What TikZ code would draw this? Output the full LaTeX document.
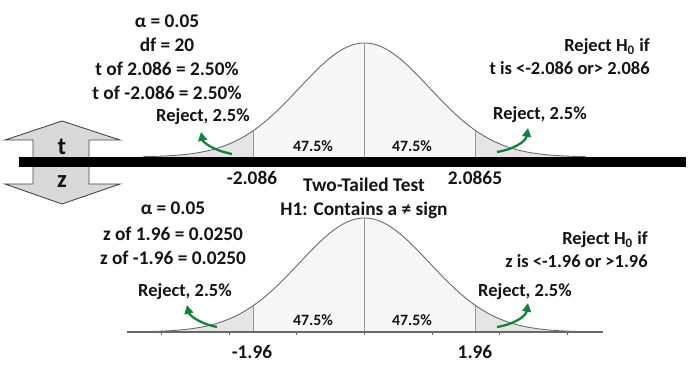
\documentclass[tikz,border=0pt]{standalone}
\usepackage{fontspec}
\setmainfont{Carlito}
\usetikzlibrary{calc,arrows.meta}
\definecolor{tailgray}{RGB}{229,229,229}
\definecolor{bodygray}{RGB}{247,247,247}
\definecolor{boxgray}{RGB}{217,217,217}
\definecolor{curvegray}{RGB}{105,105,105}
\definecolor{cutgray}{RGB}{150,150,150}
\definecolor{rejgreen}{RGB}{20,128,60}
\definecolor{inkblack}{RGB}{20,20,20}

\tikzset{
  info/.style={font=\bfseries\fontsize{11}{13.6}\selectfont, text=inkblack, inner sep=0pt, align=center},
  rej/.style={font=\bfseries\fontsize{10.5}{13}\selectfont, text=inkblack, inner sep=0pt, align=right},
  pct/.style={font=\bfseries\fontsize{9}{11}\selectfont, text=inkblack, inner sep=0pt},
  letter/.style={font=\bfseries\fontsize{14}{16}\selectfont, text=inkblack, inner sep=0pt},
  greenarc/.style={rejgreen, line width=1.3pt, -{Triangle[length=5pt,width=5pt]}},
  cutline/.style={cutgray, line width=0.6pt},
}

\begin{document}
\begin{tikzpicture}[x=0.02cm,y=-0.02cm]
    \useasboundingbox (0,0) rectangle (691,375);

    % the two bell curves (t on top, z below)
    \foreach \cy in {157,332}{
      \begin{scope}[shift={(364.5,\cy)}]
        \fill[bodygray] (-111,0) -- plot[domain=-111:111,samples=60]
          (\x,{-114*exp(-0.5*(\x/65)*(\x/65))}) -- (111,0) -- cycle;
        \fill[tailgray] (-221,0) -- plot[domain=-221:-111,samples=40]
          (\x,{-114*exp(-0.5*(\x/65)*(\x/65))}) -- (-111,0) -- cycle;
        \fill[tailgray] (111,0) -- plot[domain=111:221,samples=40]
          (\x,{-114*exp(-0.5*(\x/65)*(\x/65))}) -- (221,0) -- cycle;
        \draw[cutline] (-111,0) -- (-111,{-114*exp(-0.5*(111/65)*(111/65))});
        \draw[cutline] (111,0) -- (111,{-114*exp(-0.5*(111/65)*(111/65))});
        \draw[cutline] (0,0) -- (0,-114);
        \draw[curvegray, line width=0.5pt] plot[domain=-221:221,samples=120]
          (\x,{-114*exp(-0.5*(\x/65)*(\x/65))});
      \end{scope}
    }

    % z axis with ticks
    \coordinate (zaxL) at (127,332);
    \coordinate (zaxR) at (603,332);
    \draw[curvegray, line width=0.6pt] (zaxL) -- (zaxR);
    \foreach \k in {-3,...,3}
      \draw[curvegray, line width=0.5pt] (364.5+67.7*\k,332) -- ++(0,3);

    % t / z switch arrow
    \draw[fill=boxgray, draw=inkblack!80, line width=0.5pt]
      (62,121) -- (120,140) -- (89,140) -- (89,184) -- (120,184) -- (62,204)
      -- (5,184) -- (33,184) -- (33,140) -- (5,140) -- cycle;
    \node[letter] (tlet) at (62,147) {t};
    \node[letter] (zlet) at (62,182) {z};

    % t axis bar
    \coordinate (barL) at (19,162);
    \coordinate (barR) at (686,162);
    \draw[black, line width=5.7pt] (barL) -- (barR);

    % t side texts
    \node[info] (tinfo) at (167,57) {α = 0.05\\df = 20\\t of 2.086 = 2.50\%\\t of -2.086 = 2.50\%};
    \node[rej, anchor=east] (trule) at (650,57) {Reject H\textsubscript{0} if\\t is <-2.086 or> 2.086};
    \node[rej] (trejL) at (203,117) {Reject, 2.5\%};
    \node[rej] (trejR) at (540,115) {Reject, 2.5\%};
    \node[pct] (tpctL) at (313,146) {47.5\%};
    \node[pct] (tpctR) at (412,146) {47.5\%};
    \node[info] (tcritL) at (252,178) {-2.086};
    \node[info] (tcritR) at (475,178) {2.0865};

    \coordinate (ttailL) at (232,154);
    \coordinate (ttipL) at (201,132);
    \draw[greenarc] (ttailL) .. controls (212,150) and (203,142) .. (ttipL);
    \coordinate (ttailR) at (497,152);
    \coordinate (ttipR) at (528,128);
    \draw[greenarc] (ttailR) .. controls (515,149) and (526,141) .. (ttipR);

    % heading in the middle
    \node[info] (title) at (364,198) {Two-Tailed Test\\H1: Contains a ≠ sign};

    % z side texts
    \node[info] (zalpha) at (173,208) {α = 0.05};
    \node[info] (zinfo) at (173,246) {z of 1.96 = 0.0250\\z of -1.96 = 0.0250};
    \node[rej, anchor=east] (zrule) at (648,250) {Reject H\textsubscript{0} if\\z is <-1.96 or >1.96};
    \node[rej] (zrejL) at (185,292) {Reject, 2.5\%};
    \node[rej] (zrejR) at (525,292) {Reject, 2.5\%};
    \node[pct] (zpctL) at (313,320) {47.5\%};
    \node[pct] (zpctR) at (412,320) {47.5\%};
    \node[info] (zcritL) at (252,352) {-1.96};
    \node[info] (zcritR) at (475,352) {1.96};

    \coordinate (ztailL) at (217,327);
    \coordinate (ztipL) at (187,305);
    \draw[greenarc] (ztailL) .. controls (197,323) and (189,314) .. (ztipL);
    \coordinate (ztailR) at (497,327);
    \coordinate (ztipR) at (528,303);
    \draw[greenarc] (ztailR) .. controls (515,324) and (526,316) .. (ztipR);
\end{tikzpicture}
\end{document}
